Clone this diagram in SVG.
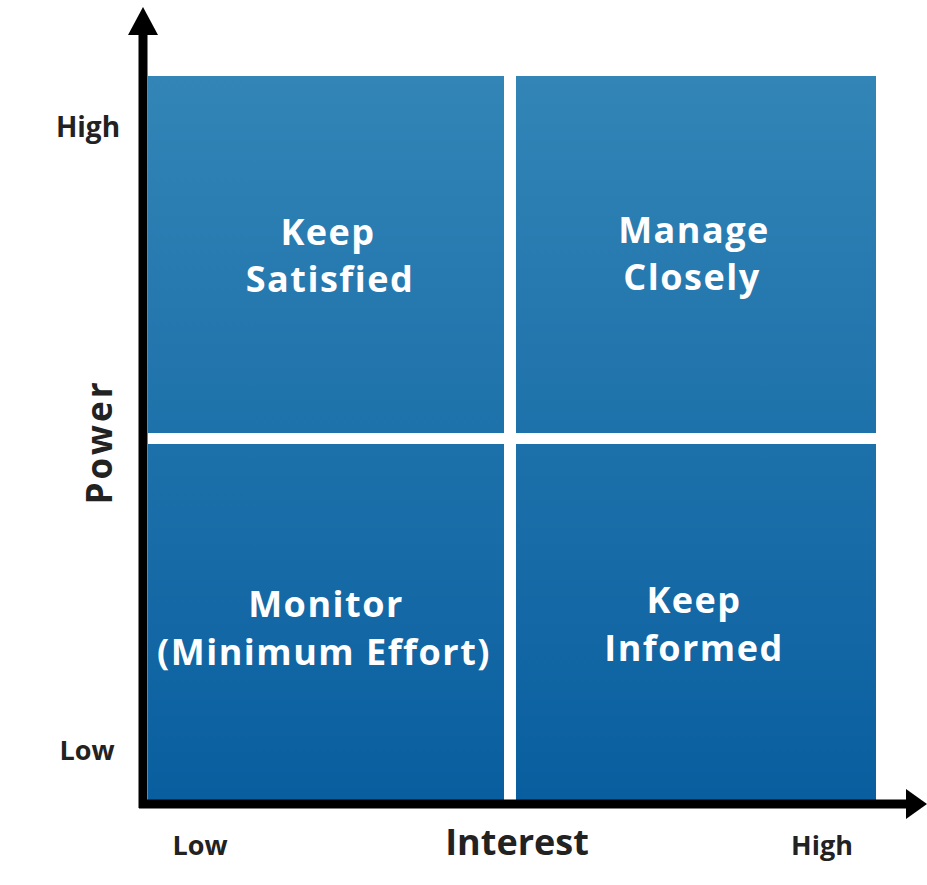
<svg xmlns="http://www.w3.org/2000/svg" width="927" height="885" viewBox="0 0 927 885">
<defs>
<linearGradient id="gAll" x1="0" y1="76" x2="0" y2="800" gradientUnits="userSpaceOnUse">
<stop offset="0" stop-color="#3285b6"/>
<stop offset="1" stop-color="#095e9f"/>
</linearGradient>
<style>
.q{fill:url(#gAll)}
.qt{font-family:"Open Sans","DejaVu Sans",sans-serif;font-weight:bold;font-size:36px;letter-spacing:1.5px;fill:#ffffff;text-anchor:middle}
.ax{font-family:"Open Sans","DejaVu Sans",sans-serif;font-weight:bold;fill:#222222;text-anchor:middle}
.axis{stroke:#000;stroke-width:9;fill:none}
</style>
</defs>
<rect width="927" height="885" fill="#ffffff"/>
<g id="q-keep-satisfied">
<rect class="q" x="148" y="76" width="356" height="357"/>
<text class="qt" x="328" y="245">Keep</text>
<text class="qt" x="330" y="292">Satisfied</text>
</g>
<g id="q-manage-closely">
<rect class="q" x="516" y="76" width="360" height="357"/>
<text class="qt" x="694" y="243">Manage</text>
<text class="qt" x="692" y="290">Closely</text>
</g>
<g id="q-monitor">
<rect class="q" x="148" y="444" width="356" height="356"/>
<text class="qt" x="326" y="617">Monitor</text>
<text class="qt" x="324" y="665">(Minimum Effort)</text>
</g>
<g id="q-keep-informed">
<rect class="q" x="516" y="444" width="360" height="356"/>
<text class="qt" x="694" y="613">Keep</text>
<text class="qt" x="694" y="661">Informed</text>
</g>
<g id="connectors">
<line class="axis" x1="143" y1="30" x2="143" y2="808"/>
<polygon points="143,7 128,35 158,35" fill="#000"/>
<line class="axis" x1="139" y1="804" x2="908" y2="804"/>
<polygon points="927,804 906,789 906,819" fill="#000"/>
</g>
<g id="labels">
<text class="ax" x="88" y="137" font-size="28">High</text>
<text class="ax" x="87" y="760" font-size="27">Low</text>
<text class="ax" x="0" y="0" font-size="35" letter-spacing="3" transform="translate(112,442) rotate(-90)">Power</text>
<text class="ax" x="517" y="855" font-size="36">Interest</text>
<text class="ax" x="200" y="855" font-size="27">Low</text>
<text class="ax" x="822" y="855" font-size="27">High</text>
</g>
</svg>
